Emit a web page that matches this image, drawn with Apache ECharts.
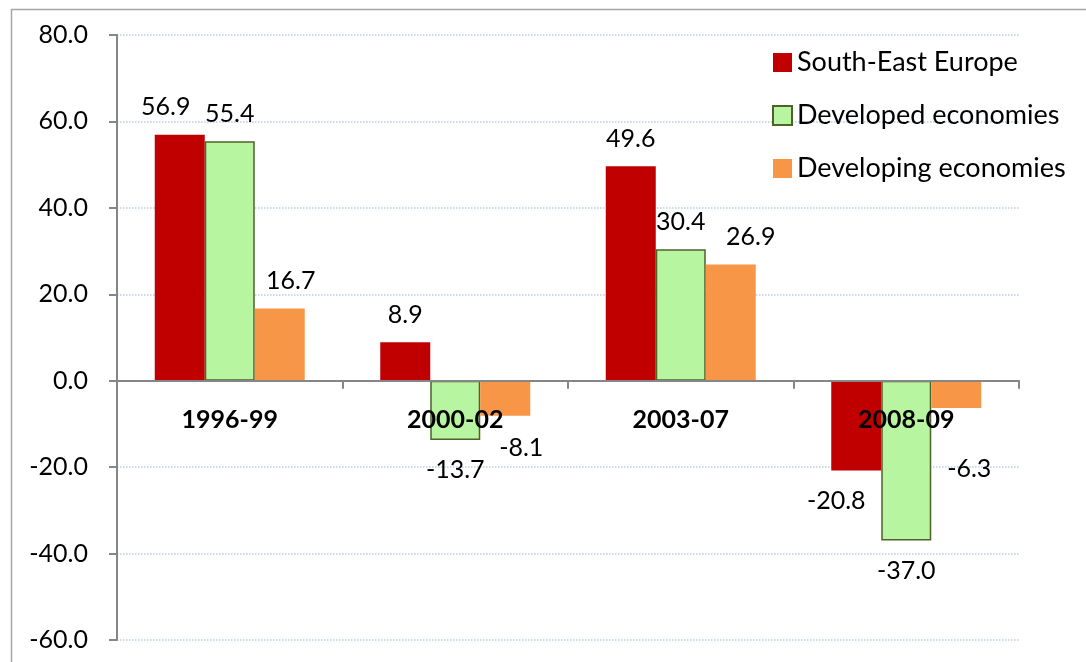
<!DOCTYPE html>
<html>
    <head>
        <title>Growth by period</title>
        <meta charset="UTF-8">
        <script type="text/javascript" src="https://cdn.jsdelivr.net/npm/echarts@6/dist/echarts.min.js"></script>
        <style>
            html, body { margin: 0; padding: 0; background: #fff; }
            #container { width: 1086px; height: 662px; }
        </style>
    </head>
    <body>
        <div id="container"></div>
        <script type="text/javascript">
            var periods = ['1996-99', '2000-02', '2003-07', '2008-09'];
            var seriesNames = ['South-East Europe', 'Developed economies', 'Developing economies'];
            var southEastEurope = [56.9, 8.9, 49.6, -20.8];
            var developedEconomies = [55.4, -13.7, 30.4, -37.0];
            var developingEconomies = [16.7, -8.1, 26.9, -6.3];
            var yTicks = [-60, -40, -20, 0, 20, 40, 60, 80];

            // hand-moved data labels, as in the original
            var labelShift = [
                [[-14, 0], [0, 0], [0, 0], [-20, 0]],
                [[0, 0], [0, 0], [0, 0], [0, 0]],
                [[11, 0], [16, 2], [20, 0], [13, 30]]
            ];
            var fills = ['#C00000', '#B7F5A0', '#F79646'];
            var borders = ['#C00000', '#4F6228', '#F79646'];
            var font = 'Lato, "Open Sans", sans-serif';

            function makeData(values, s) {
                return values.map(function (v, i) {
                    return {
                        value: v,
                        label: {
                            position: v < 0 ? 'bottom' : 'top',
                            distance: v < 0 ? 18 : 15,
                            offset: labelShift[s][i]
                        }
                    };
                });
            }

            var series = [southEastEurope, developedEconomies, developingEconomies].map(function (vals, s) {
                return {
                    name: seriesNames[s],
                    type: 'bar',
                    barWidth: 50,
                    barGap: '0%',
                    data: makeData(vals, s),
                    itemStyle: {
                        color: fills[s],
                        borderColor: borders[s],
                        borderWidth: s === 1 ? 1.5 : 0
                    },
                    label: {
                        show: true,
                        fontFamily: font,
                        fontSize: 25,
                        color: '#000',
                        formatter: function (p) { return p.value.toFixed(1); }
                    }
                };
            });

            var myChart = echarts.init(document.getElementById('container'));
            var option = {
                animation: false,
                textStyle: { fontFamily: font },
                graphic: [{
                    type: 'rect',
                    left: 9, top: 7,
                    shape: { width: 1200, height: 800 },
                    style: { fill: 'none', stroke: '#A6A6A6', lineWidth: 1.5 },
                    silent: true
                }],
                grid: { left: 117, right: 67, top: 35, bottom: 22, outerBoundsMode: 'none' },
                legend: {
                    orient: 'vertical',
                    left: 767,
                    top: 44,
                    itemWidth: 19,
                    itemHeight: 19,
                    itemGap: 26,
                    icon: 'rect',
                    textStyle: { fontFamily: font, fontSize: 27, color: '#000' },
                    data: seriesNames
                },
                xAxis: {
                    type: 'category',
                    data: periods,
                    position: 'bottom',
                    z: 5,
                    axisLine: { onZero: false, lineStyle: { color: '#868686', width: 2 } },
                    axisTick: { show: true, length: 8, lineStyle: { color: '#868686', width: 2 } },
                    axisLabel: { margin: 27, fontFamily: font, fontSize: 25, fontWeight: 'bold', color: '#000' },
                    splitLine: { show: false }
                },
                yAxis: {
                    type: 'value',
                    min: yTicks[0],
                    max: yTicks[yTicks.length - 1],
                    interval: 20,
                    axisLine: { show: true, lineStyle: { color: '#868686', width: 2 } },
                    axisTick: { show: true, length: 8, lineStyle: { color: '#868686', width: 2 } },
                    axisLabel: {
                        margin: 29, fontFamily: font, fontSize: 25, color: '#000',
                        formatter: function (v) { return v.toFixed(1); }
                    },
                    splitLine: { show: true, lineStyle: { color: '#B9CDE5', type: 'dotted', width: 1.5 } }
                },
                series: series
            };
            myChart.setOption(option);

            // lift the category axis (line, ticks and names) up to the zero line
            var zeroY = myChart.convertToPixel({ yAxisIndex: 0 }, 0);
            var bottomY = myChart.convertToPixel({ yAxisIndex: 0 }, yTicks[0]);
            myChart.setOption({ xAxis: { offset: -(bottomY - zeroY) } });
        </script>
    </body>
</html>
